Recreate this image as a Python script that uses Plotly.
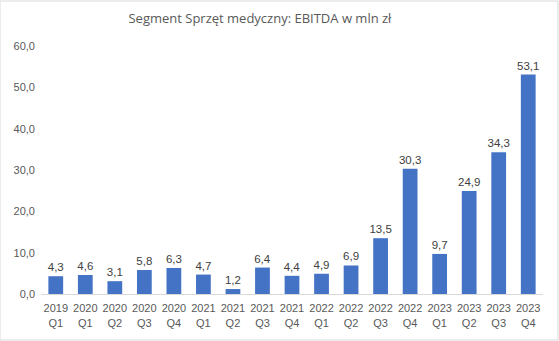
import plotly.graph_objects as go

categories = ["2019<br>Q1", "2020<br>Q1", "2020<br>Q2", "2020<br>Q3", "2020<br>Q4", "2021<br>Q1", "2021<br>Q2",
              "2021<br>Q3", "2021<br>Q4", "2022<br>Q1", "2022<br>Q2", "2022<br>Q3", "2022<br>Q4", "2023<br>Q1",
              "2023<br>Q2", "2023<br>Q3", "2023<br>Q4"]
ebitda = [4.3, 4.6, 3.1, 5.8, 6.3, 4.7, 1.2, 6.4, 4.4, 4.9, 6.9, 13.5, 30.3, 9.7, 24.9, 34.3, 53.1]
y_ticks = [0, 10, 20, 30, 40, 50, 60]
y_tick_labels = ["0,0", "10,0", "20,0", "30,0", "40,0", "50,0", "60,0"]
title = "Segment Sprzęt medyczny: EBITDA w mln zł"

FONT = "Liberation Sans, Arial, sans-serif"
TFONT = "Open Sans, Liberation Sans, sans-serif"
GREY = "#595959"

fig = go.Figure(go.Bar(
    x=categories, y=ebitda,
    marker=dict(color="#4472C4", line=dict(width=0)),
    text=[f"{v:.1f}".replace(".", ",") for v in ebitda],
    textposition="outside", cliponaxis=False, constraintext="none",
    textfont=dict(family=FONT, size=11.5, color="#404040"),
))

fig.update_layout(
    width=559, height=341,
    margin=dict(l=41, r=16, t=46, b=47),
    paper_bgcolor="white", plot_bgcolor="white",
    bargap=0.5,
    showlegend=False,
    title=dict(text=title, x=0.465, xanchor="center", y=0.945, yanchor="middle",
               font=dict(family=TFONT, size=13, color=GREY)),
    xaxis=dict(tickfont=dict(family=FONT, size=11, color=GREY), showline=True,
               linecolor="#d9d9d9", linewidth=1, ticks="", showgrid=False, tickangle=0,
               ticklabelstandoff=4),
    yaxis=dict(range=[0, 60], tickvals=y_ticks, ticktext=y_tick_labels, showgrid=False,
               zeroline=False, showline=False, ticks="", ticklabelstandoff=5,
               tickfont=dict(family=FONT, size=11, color=GREY)),
    shapes=[dict(type="rect", xref="paper", yref="paper", x0=-41/502, x1=1+15/502, y0=-46/248, y1=1+45/248,
                 line=dict(color="#d9d9d9", width=1))],
)

fig.write_html("out.html")
